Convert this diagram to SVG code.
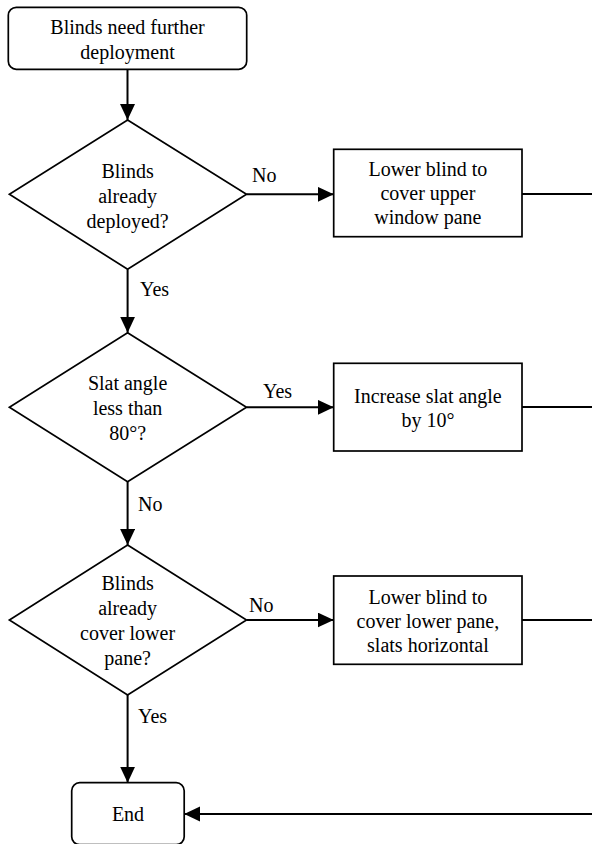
<svg xmlns="http://www.w3.org/2000/svg" width="592" height="844" viewBox="0 0 592 844">
<style>
.shape{fill:#fff;stroke:#000;stroke-width:1.7}
.conn{fill:none;stroke:#000;stroke-width:2}
text{font-size:20px;fill:#000;text-anchor:middle}
.lbl{text-anchor:start}
</style>
<defs>
<marker id="arr" markerUnits="userSpaceOnUse" markerWidth="16" markerHeight="16" refX="16" refY="7.5" orient="auto">
<path d="M0,0 L16,7.5 L0,15 z" fill="#000"/>
</marker>
</defs>
<rect width="592" height="844" fill="#fff"/>
<g font-family="Liberation Serif, DejaVu Serif, serif">
<g id="connectors">
<path class="conn" d="M127.5,69.3 V120" marker-end="url(#arr)"/>
<path class="conn" d="M246.5,194.3 H333.7" marker-end="url(#arr)"/>
<path class="conn" d="M127.6,269.3 V332.7" marker-end="url(#arr)"/>
<path class="conn" d="M246.5,407.3 H333.7" marker-end="url(#arr)"/>
<path class="conn" d="M127.6,481.7 V545" marker-end="url(#arr)"/>
<path class="conn" d="M246.5,620 H333.7" marker-end="url(#arr)"/>
<path class="conn" d="M127.6,695 V782.7" marker-end="url(#arr)"/>
<path class="conn" d="M522,194 H597"/>
<path class="conn" d="M522,407 H597"/>
<path class="conn" d="M522,620 H597"/>
<path class="conn" d="M597,814 H184.2" marker-end="url(#arr)"/>
<text class="lbl" x="252" y="182">No</text>
<text class="lbl" x="140" y="296">Yes</text>
<text class="lbl" x="263" y="398">Yes</text>
<text class="lbl" x="138" y="511">No</text>
<text class="lbl" x="249" y="612">No</text>
<text class="lbl" x="138" y="723">Yes</text>
</g>
<g id="start">
<rect class="shape" x="8.3" y="7.3" width="238.4" height="62" rx="8"/>
<text x="127.5" y="34">Blinds need further</text>
<text x="127.5" y="59">deployment</text>
</g>
<g id="decision1">
<polygon class="shape" points="127.6,120 246.5,194.3 127.6,269.3 9.4,194.3"/>
<text x="127.6" y="178">Blinds</text>
<text x="127.6" y="203">already</text>
<text x="127.6" y="228">deployed?</text>
</g>
<g id="action1">
<rect class="shape" x="333.7" y="149.3" width="188.3" height="87.4"/>
<text x="427.9" y="176">Lower blind to</text>
<text x="427.9" y="200">cover upper</text>
<text x="427.9" y="224">window pane</text>
</g>
<g id="decision2">
<polygon class="shape" points="127.6,332.7 246.5,407.3 127.6,481.7 9.4,407.3"/>
<text x="127.6" y="390">Slat angle</text>
<text x="127.6" y="415">less than</text>
<text x="127.6" y="440">80°?</text>
</g>
<g id="action2">
<rect class="shape" x="333.7" y="363.3" width="188.3" height="87.7"/>
<text x="427.9" y="403">Increase slat angle</text>
<text x="427.9" y="427">by 10°</text>
</g>
<g id="decision3">
<polygon class="shape" points="127.6,545 246.5,620 127.6,695 9.4,620"/>
<text x="127.6" y="590">Blinds</text>
<text x="127.6" y="615">already</text>
<text x="127.6" y="640">cover lower</text>
<text x="127.6" y="665">pane?</text>
</g>
<g id="action3">
<rect class="shape" x="333.7" y="576" width="188.3" height="88.3"/>
<text x="427.9" y="604">Lower blind to</text>
<text x="427.9" y="628">cover lower pane,</text>
<text x="427.9" y="652">slats horizontal</text>
</g>
<g id="end">
<rect class="shape" x="71.7" y="782.7" width="112.5" height="62" rx="8"/>
<text x="128" y="821">End</text>
</g>
</g>
</svg>
